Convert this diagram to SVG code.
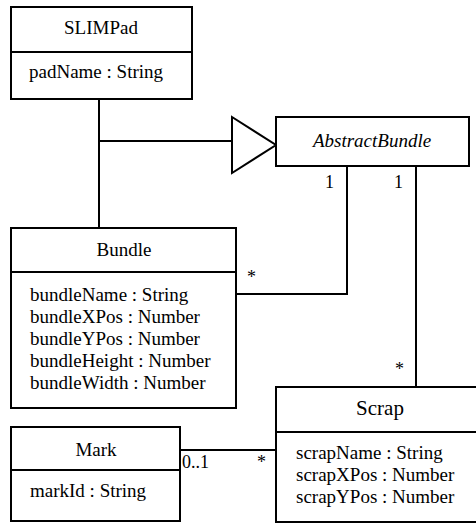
<svg xmlns="http://www.w3.org/2000/svg" width="476" height="523" viewBox="0 0 476 523" font-family="'Liberation Serif', 'Times New Roman', Tinos, 'Nimbus Roman', 'DejaVu Serif', serif">
  <style>
    .box { fill: #ffffff; stroke: #000000; stroke-width: 2; }
    .sep { stroke: #000000; stroke-width: 2; }
    .wire { fill: none; stroke: #000000; stroke-width: 2; }
    text { font-family: 'Liberation Serif', 'Times New Roman', Tinos, 'Nimbus Roman', 'DejaVu Serif', serif; font-size: 19px; fill: #000000; }
    .title { text-anchor: middle; }
    .abstract { font-style: italic; }
    .big { font-size: 21px; }
    .mult { font-size: 18px; }
  </style>
  <rect width="476" height="523" fill="#ffffff"/>

  <!-- connectors -->
  <g id="connectors">
    <!-- SLIMPad / Bundle generalisation to AbstractBundle -->
    <polyline class="wire" points="99,99 99,229"/>
    <polyline class="wire" points="99,141 232,141"/>
    <polygon class="wire" points="232,117 276,145 232,173" fill="#ffffff"/>
    <!-- AbstractBundle 1 — * Bundle -->
    <polyline class="wire" points="347,166 347,294 236,294"/>
    <text class="mult" x="325" y="188">1</text>
    <text class="mult" x="247" y="283">*</text>
    <!-- AbstractBundle 1 — * Scrap -->
    <polyline class="wire" points="416,166 416,387"/>
    <text class="mult" x="394" y="188">1</text>
    <text class="mult" x="395" y="375">*</text>
    <!-- Mark 0..1 — * Scrap -->
    <polyline class="wire" points="180,450 276,450"/>
    <text class="mult" x="182" y="468">0..1</text>
    <text class="mult" x="257" y="468">*</text>
  </g>

  <g id="SLIMPad">
    <rect class="box" x="11" y="7" width="181" height="92"/>
    <line class="sep" x1="11" y1="52" x2="192" y2="52"/>
    <text class="title" x="101" y="34">SLIMPad</text>
    <text x="29" y="78">padName : String</text>
  </g>

  <g id="AbstractBundle">
    <rect class="box" x="276" y="117" width="193" height="49"/>
    <text class="title abstract" x="372" y="147">AbstractBundle</text>
  </g>

  <g id="Bundle">
    <rect class="box" x="11" y="228" width="225" height="180"/>
    <line class="sep" x1="11" y1="272" x2="236" y2="272"/>
    <text class="title" x="124" y="256">Bundle</text>
    <text x="30" y="301">bundleName : String</text>
    <text x="30" y="323">bundleXPos : Number</text>
    <text x="30" y="345">bundleYPos : Number</text>
    <text x="30" y="367">bundleHeight : Number</text>
    <text x="30" y="389">bundleWidth : Number</text>
  </g>

  <g id="Mark">
    <rect class="box" x="11" y="427" width="169" height="94"/>
    <line class="sep" x1="11" y1="470" x2="180" y2="470"/>
    <text class="title" x="96" y="456">Mark</text>
    <text x="30" y="497">markId : String</text>
  </g>

  <g id="Scrap">
    <rect class="box" x="276" y="387" width="208" height="135"/>
    <line class="sep" x1="276" y1="432" x2="484" y2="432"/>
    <text class="title big" x="380" y="415">Scrap</text>
    <text x="296" y="459">scrapName : String</text>
    <text x="296" y="481">scrapXPos : Number</text>
    <text x="296" y="503">scrapYPos : Number</text>
  </g>
</svg>
